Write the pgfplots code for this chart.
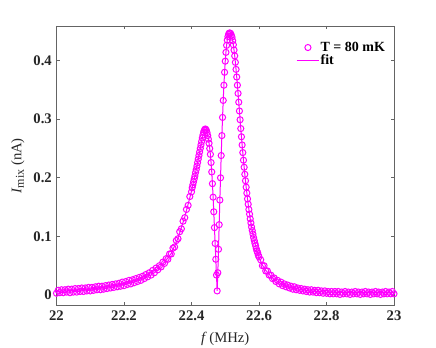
\documentclass[border=0pt]{standalone}
\usepackage{fontspec}
\setmainfont{Liberation Serif}
\usepackage{pgfplots}
\usepackage{pgfplotstable}
\pgfplotsset{compat=1.18}
\definecolor{axgray}{RGB}{100,100,100}
\definecolor{mag}{RGB}{255,0,255}

\pgfplotstableread{
f I
22.000 0.003
22.005 0.008
22.010 0.004
22.015 0.009
22.020 0.004
22.025 0.009
22.030 0.005
22.035 0.010
22.040 0.004
22.045 0.010
22.050 0.005
22.055 0.011
22.060 0.005
22.065 0.011
22.070 0.006
22.075 0.012
22.080 0.006
22.085 0.012
22.090 0.007
22.095 0.013
22.100 0.007
22.105 0.013
22.110 0.008
22.115 0.014
22.120 0.009
22.125 0.015
22.130 0.009
22.135 0.015
22.140 0.010
22.145 0.016
22.150 0.011
22.155 0.017
22.160 0.012
22.165 0.018
22.170 0.013
22.175 0.019
22.180 0.014
22.185 0.020
22.190 0.015
22.195 0.022
22.200 0.016
22.205 0.023
22.210 0.018
22.215 0.025
22.220 0.019
22.225 0.026
22.230 0.021
22.235 0.028
22.240 0.023
22.245 0.030
22.250 0.025
22.255 0.032
22.260 0.028
22.265 0.035
22.270 0.031
22.275 0.038
22.280 0.034
22.285 0.042
22.290 0.038
22.295 0.046
22.300 0.043
22.305 0.050
22.310 0.048
22.315 0.056
22.320 0.054
22.325 0.062
22.330 0.061
22.335 0.070
22.340 0.070
22.345 0.080
22.350 0.082
22.355 0.093
22.360 0.096
22.365 0.108
22.370 0.113
22.375 0.126
22.380 0.132
22.385 0.146
22.390 0.153
22.395 0.168
22.400 0.176
22.402 0.183
22.404 0.188
22.406 0.193
22.408 0.198
22.410 0.203
22.412 0.209
22.414 0.214
22.416 0.220
22.418 0.226
22.420 0.232
22.422 0.238
22.424 0.244
22.426 0.250
22.428 0.256
22.430 0.262
22.432 0.268
22.434 0.273
22.436 0.278
22.438 0.281
22.440 0.283
22.442 0.283
22.444 0.281
22.446 0.277
22.448 0.272
22.450 0.266
22.452 0.259
22.454 0.250
22.456 0.240
22.458 0.226
22.460 0.210
22.462 0.190
22.464 0.167
22.466 0.142
22.468 0.115
22.470 0.088
22.472 0.061
22.474 0.034
22.476 0.007
22.478 0.038
22.480 0.078
22.482 0.120
22.484 0.162
22.486 0.200
22.488 0.238
22.490 0.272
22.492 0.303
22.494 0.332
22.496 0.358
22.498 0.380
22.500 0.399
22.502 0.414
22.504 0.426
22.506 0.435
22.508 0.441
22.510 0.445
22.512 0.447
22.514 0.447
22.516 0.446
22.518 0.443
22.520 0.440
22.522 0.434
22.524 0.427
22.526 0.418
22.528 0.408
22.530 0.397
22.532 0.385
22.534 0.372
22.536 0.358
22.538 0.344
22.540 0.329
22.542 0.314
22.544 0.299
22.546 0.284
22.548 0.270
22.550 0.256
22.552 0.243
22.554 0.230
22.556 0.218
22.558 0.206
22.560 0.195
22.562 0.184
22.564 0.174
22.566 0.164
22.568 0.155
22.570 0.146
22.572 0.138
22.574 0.130
22.576 0.123
22.578 0.116
22.580 0.110
22.582 0.104
22.584 0.098
22.586 0.093
22.588 0.088
22.590 0.084
22.592 0.079
22.594 0.075
22.596 0.072
22.598 0.068
22.600 0.065
22.605 0.060
22.610 0.050
22.615 0.050
22.620 0.041
22.625 0.041
22.630 0.034
22.635 0.034
22.640 0.028
22.645 0.029
22.650 0.023
22.655 0.025
22.660 0.019
22.665 0.022
22.670 0.016
22.675 0.019
22.680 0.014
22.685 0.017
22.690 0.012
22.695 0.015
22.700 0.010
22.705 0.014
22.710 0.009
22.715 0.012
22.720 0.008
22.725 0.011
22.730 0.007
22.735 0.010
22.740 0.006
22.745 0.009
22.750 0.005
22.755 0.009
22.760 0.005
22.765 0.008
22.770 0.004
22.775 0.008
22.780 0.004
22.785 0.007
22.790 0.003
22.795 0.007
22.800 0.003
22.805 0.006
22.810 0.002
22.815 0.006
22.820 0.002
22.825 0.006
22.830 0.002
22.835 0.006
22.840 0.001
22.845 0.005
22.850 0.002
22.855 0.006
22.860 0.002
22.865 0.005
22.870 0.001
22.875 0.005
22.880 0.002
22.885 0.006
22.890 0.002
22.895 0.005
22.900 0.001
22.905 0.005
22.910 0.002
22.915 0.006
22.920 0.002
22.925 0.005
22.930 0.001
22.935 0.005
22.940 0.002
22.945 0.006
22.950 0.002
22.955 0.005
22.960 0.001
22.965 0.005
22.970 0.002
22.975 0.006
22.980 0.002
22.985 0.005
22.990 0.002
22.995 0.006
23.000 0.002
}\datatable

\pgfplotstableread{
f I
22.000 0.006
22.050 0.008
22.100 0.010
22.150 0.014
22.200 0.019
22.250 0.028
22.300 0.045
22.320 0.056
22.340 0.071
22.360 0.097
22.380 0.133
22.400 0.177
22.402 0.183
22.404 0.188
22.406 0.193
22.408 0.198
22.410 0.203
22.412 0.209
22.414 0.214
22.416 0.220
22.418 0.226
22.420 0.232
22.422 0.238
22.424 0.244
22.426 0.250
22.428 0.256
22.430 0.262
22.432 0.268
22.434 0.273
22.436 0.278
22.438 0.281
22.440 0.283
22.442 0.283
22.444 0.281
22.446 0.277
22.448 0.272
22.450 0.266
22.452 0.259
22.454 0.250
22.456 0.240
22.458 0.226
22.460 0.210
22.462 0.190
22.464 0.167
22.466 0.142
22.468 0.115
22.470 0.088
22.472 0.061
22.474 0.034
22.476 0.007
22.478 0.038
22.480 0.078
22.482 0.120
22.484 0.162
22.486 0.200
22.488 0.238
22.490 0.272
22.492 0.303
22.494 0.332
22.496 0.358
22.498 0.380
22.500 0.399
22.502 0.414
22.504 0.426
22.506 0.435
22.508 0.441
22.510 0.445
22.512 0.447
22.514 0.447
22.516 0.446
22.518 0.443
22.520 0.440
22.522 0.434
22.524 0.427
22.526 0.418
22.528 0.408
22.530 0.397
22.532 0.385
22.534 0.372
22.536 0.358
22.538 0.344
22.540 0.329
22.542 0.314
22.544 0.299
22.546 0.284
22.548 0.270
22.550 0.256
22.552 0.243
22.554 0.230
22.556 0.218
22.558 0.206
22.560 0.195
22.562 0.184
22.564 0.174
22.566 0.164
22.568 0.155
22.570 0.146
22.572 0.138
22.574 0.130
22.576 0.123
22.578 0.116
22.580 0.110
22.582 0.104
22.584 0.098
22.586 0.093
22.588 0.088
22.590 0.084
22.592 0.079
22.594 0.075
22.596 0.072
22.598 0.068
22.600 0.065
22.610 0.051
22.620 0.042
22.640 0.029
22.660 0.021
22.680 0.015
22.700 0.012
22.750 0.007
22.800 0.005
22.900 0.004
23.000 0.004
}\fittable

\begin{document}
\begin{tikzpicture}
\begin{axis}[
  name=ax,
  scale only axis,
  width=253.125pt, height=209.8pt,
  xmin=22, xmax=23, ymin=-0.0183, ymax=0.459,
  xtick={22,22.2,22.4,22.6,22.8,23},
  ytick={0,0.1,0.2,0.3,0.4},
  tick align=inside,
  major tick length=2.5pt,
  axis line style={axgray, line width=0.5pt},
  every tick/.style={axgray, line width=0.5pt},
  /pgf/number format/assume math mode=true,
  tick label style={font=\bfseries\fontsize{11}{13}\selectfont, text=black!85},
  xlabel={\textit{f}\,(MHz)},
  ylabel={\textit{I}\raisebox{-0.35ex}{\fontsize{9}{10}\selectfont mix}\ (nA)},
  label style={font=\fontsize{11}{13}\selectfont, text=black!85},
  xlabel style={at={(axis description cs:0.5,0)}, anchor=base, yshift=-27.8pt},
  ylabel style={at={(axis description cs:0,0.5)}, anchor=center, yshift=28.9pt},
  clip=false,
  legend style={draw=none, fill=none, at={(axis cs:22.705,0.436)}, anchor=north west,
    font=\bfseries\fontsize{10.5}{11}\selectfont, row sep=0pt, inner sep=1pt,
    nodes={inner sep=0.6pt}},
  legend cell align=left,
]
\addplot[only marks, mark=o, mark size=2.3pt, color=mag, mark options={line width=0.75pt}] table[x=f, y=I] {\datatable};
\addlegendentry{T = 80 mK}
\addplot[color=mag, line width=0.75pt, no marks] table[x=f, y=I] {\fittable};
\addlegendentry{fit}
\end{axis}
\pgfresetboundingbox
\path[use as bounding box] ([xshift=-42.375pt,yshift=-31pt]ax.south west) rectangle ([xshift=31.5pt,yshift=19.5pt]ax.north east);
\end{tikzpicture}
\end{document}
